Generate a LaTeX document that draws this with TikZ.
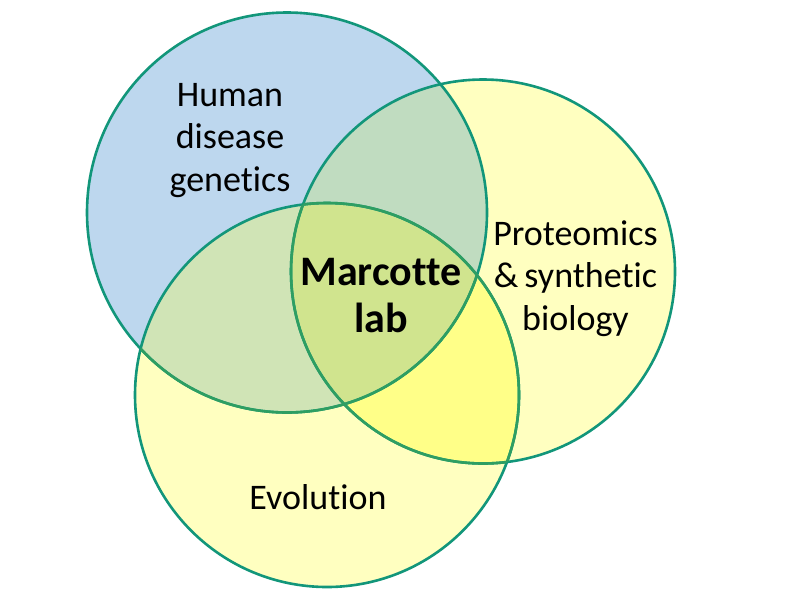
\documentclass[tikz,border=0pt]{standalone}
\usepackage{fontspec}
\setmainfont{Carlito}[Ligatures={NoCommon}]
\definecolor{blueA}{HTML}{BDD7EE}
\definecolor{yel}{HTML}{FFFFC0}
\definecolor{regab}{HTML}{C0DCC0}
\definecolor{regac}{HTML}{D0E4B6}
\definecolor{regbc}{HTML}{FFFF88}
\definecolor{regabc}{HTML}{D0E48E}
\definecolor{edge}{HTML}{12967A}
\definecolor{edgeg}{HTML}{2E9E62}
\begin{document}
\begin{tikzpicture}[x=1pt,y=-1pt,
  ring/.style={line width=2.6pt},
  lbl/.style={align=center, inner sep=0pt, anchor=base, text=black,
    font={\fontsize{36}{42.5}\selectfont}},
  core/.style={align=center, inner sep=0pt, anchor=base, text=black,
    font={\fontsize{42}{47}\selectfont\bfseries}}]
\useasboundingbox (0,0) rectangle (800,600);
\def\pathA{(287,212.5) circle[radius=200]}
\def\pathB{(483,271.5) circle[radius=192]}
\def\pathC{(327,395) circle[radius=192]}
% fills
\fill[blueA] \pathA;
\fill[yel] \pathB;
\fill[yel] \pathC;
\begin{scope}\clip \pathA; \fill[regab] \pathB; \fill[regac] \pathC; \end{scope}
\begin{scope}\clip \pathB; \fill[regbc] \pathC; \end{scope}
\begin{scope}\clip \pathA; \clip \pathB; \fill[regabc] \pathC; \end{scope}
% outlines
\draw[ring, edge] \pathA;
\draw[ring, edge] \pathB;
\draw[ring, edge] \pathC;
\begin{scope}\clip \pathC; \draw[ring, edgeg] \pathA; \draw[ring, edgeg] \pathB; \end{scope}
\begin{scope}\clip \pathB; \draw[ring, edgeg] \pathC; \end{scope}
% labels
\node[lbl] (human) at (230,191) {Human\\disease\\genetics};
\node[lbl] (prot) at (575.5,330) {Proteomics\\\&\,synthetic\\biology};
\node[core] (lab) at (381,332) {Marcotte\\lab};
\node[lbl] (evo) at (318,509) {Evolution};
\end{tikzpicture}
\end{document}
